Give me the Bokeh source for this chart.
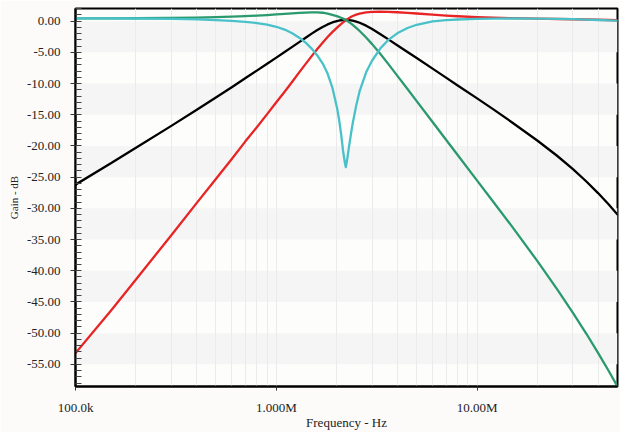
import numpy as np
from bokeh.plotting import figure
from bokeh.models import Range1d, FixedTicker, PrintfTickFormatter, BoxAnnotation, CustomJSTickFormatter
from bokeh.embed import file_html
from bokeh.resources import INLINE

# ---- data ----
freq_hz = [100e3, 150e3, 200e3, 300e3, 400e3, 500e3, 600e3, 700e3, 800e3, 900e3,
           1.0e6, 1.1e6, 1.2e6, 1.3e6, 1.4e6, 1.5e6, 1.6e6, 1.7e6, 1.8e6, 1.9e6,
           2.0e6, 2.05e6, 2.1e6, 2.15e6, 2.2e6, 2.22e6, 2.25e6, 2.3e6, 2.35e6, 2.4e6,
           2.5e6, 2.6e6, 2.8e6, 3.0e6, 3.3e6, 3.6e6, 4.0e6, 4.5e6, 5.0e6, 6.0e6,
           7.0e6, 8.0e6, 10e6, 12e6, 15e6, 20e6, 25e6, 30e6, 35e6, 40e6, 45e6, 50e6]

bandpass_db = [-26.2, -22.77, -20.3, -16.78, -14.24, -12.24, -10.58, -9.16, -7.92, -6.82,
               -5.84, -4.95, -4.12, -3.36, -2.66, -2.0, -1.42, -0.93, -0.52, -0.21,
               0.0, 0.09, 0.15, 0.18, 0.2, 0.2, 0.2, 0.18, 0.14, 0.1,
               -0.06, -0.25, -0.72, -1.27, -2.1, -2.88, -3.85, -4.93, -5.9, -7.6,
               -9.05, -10.3, -12.38, -14.1, -16.27, -19.17, -21.57, -23.7, -25.7, -27.55, -29.3, -31.0]

highpass_db = [-53.2, -46.4, -41.4, -34.3, -29.2, -25.3, -22.1, -19.3, -17.0, -14.9,
               -13.0, -11.3, -9.7, -8.2, -6.85, -5.6, -4.45, -3.45, -2.55, -1.75,
               -1.07, -0.76, -0.47, -0.2, 0.05, 0.145, 0.28, 0.485, 0.67, 0.83,
               1.05, 1.22, 1.4, 1.48, 1.52, 1.5, 1.43, 1.33, 1.23, 1.05,
               0.9, 0.79, 0.65, 0.56, 0.48, 0.4, 0.35, 0.31, 0.27, 0.23, 0.19, 0.15]

lowpass_db = [0.45, 0.45, 0.47, 0.52, 0.58, 0.65, 0.72, 0.8, 0.88, 0.98,
              1.1, 1.18, 1.26, 1.32, 1.37, 1.4, 1.41, 1.35, 1.2, 1.0,
              0.8, 0.68, 0.55, 0.4, 0.25, 0.18, 0.07, -0.13, -0.35, -0.58,
              -1.07, -1.58, -2.62, -3.68, -5.27, -6.8, -8.72, -10.88, -12.82, -16.16,
              -19.0, -21.45, -25.55, -28.9, -33.0, -38.5, -42.95, -46.75, -50.1, -53.15, -55.95, -58.55]

notch_db = [0.45, 0.45, 0.43, 0.38, 0.3, 0.18, 0.05, -0.1, -0.3, -0.55,
            -0.9, -1.35, -1.95, -2.65, -3.45, -4.4, -5.5, -6.75, -8.4, -10.6,
            -13.7, -15.6, -18.0, -20.8, -22.9, -23.4, -22.3, -20.2, -18.2, -16.4,
            -13.5, -11.2, -8.2, -6.3, -4.35, -3.05, -1.95, -1.1, -0.58, -0.02,
            0.17, 0.27, 0.36, 0.4, 0.43, 0.42, 0.38, 0.32, 0.25, 0.19, 0.13, 0.08]

x_tick_values = [1e5, 1e6, 1e7]
x_tick_labels = ["100.0k", "1.000M", "10.00M"]
y_tick_values = [0, -5, -10, -15, -20, -25, -30, -35, -40, -45, -50, -55]

FONT = "Liberation Serif"

p = figure(width=620, height=432, x_axis_type="log",
           x_range=Range1d(1e5, 5e7), y_range=Range1d(-58.55, 2.03),
           output_backend="svg", toolbar_location=None,
           min_border_left=75, min_border_right=3, min_border_top=8, min_border_bottom=41)

p.background_fill_color = "#fdfdfc"
p.border_fill_color = "#fcfbfa"
p.outline_line_color = "black"
p.outline_line_width = 2

# alternating horizontal bands every 5 dB
for t in y_tick_values[::2]:
    p.add_layout(BoxAnnotation(top=t, bottom=t - 5, fill_color="#f5f5f5", fill_alpha=1.0,
                               line_color=None, level="image"))

# vertical grid at 1..9 x decade
grid_ticks = [m * 10.0 ** e for e in (5, 6, 7) for m in range(1, 10) if m * 10.0 ** e <= 5e7]
p.xgrid.ticker = FixedTicker(ticks=grid_ticks)
p.xgrid.grid_line_color = "#ebebeb"
p.xgrid.grid_line_width = 1
p.ygrid.grid_line_color = None

# curves
kw = dict(line_width=2.3, line_join="round", line_cap="round")
p.line(freq_hz, bandpass_db, line_color="#000000", **kw)
p.line(freq_hz, highpass_db, line_color="#e82424", **kw)
p.line(freq_hz, lowpass_db, line_color="#2a9a6e", **kw)
p.line(freq_hz, notch_db, line_color="#48c2c8", **kw)

# x axis
xa = p.xaxis[0]
xa.ticker = FixedTicker(ticks=x_tick_values, minor_ticks=[])
xa.formatter = CustomJSTickFormatter(args=dict(vals=x_tick_values, labs=x_tick_labels), code="""
for (let i = 0; i < vals.length; i++) {
  if (Math.abs(tick - vals[i]) < 1e-6 * vals[i]) { return labs[i]; }
}
return "";
""")
xa.axis_label = "Frequency - Hz"

# y axis
ya = p.yaxis[0]
ya.ticker = FixedTicker(ticks=y_tick_values, minor_ticks=list(range(2, -59, -1)))
ya.formatter = PrintfTickFormatter(format="%.2f")
ya.axis_label = "Gain - dB"

for ax in (xa, ya):
    ax.axis_line_color = "black"
    ax.axis_line_width = 2
    ax.major_tick_line_color = "#333333"
    ax.major_tick_in = 0
    ax.major_label_text_font = FONT
    ax.major_label_text_font_size = "13px"
    ax.major_label_text_color = "#222222"
    ax.axis_label_text_font = FONT
    ax.axis_label_text_font_style = "normal"
    ax.axis_label_text_color = "#222222"

xa.major_tick_out = 4
xa.minor_tick_line_color = None
xa.major_label_standoff = 9
xa.axis_label_standoff = -3
xa.axis_label_text_font_size = "13px"

ya.major_tick_out = 5
ya.minor_tick_in = 6
ya.minor_tick_out = 0
ya.minor_tick_line_color = "#444444"
ya.major_label_standoff = 10
ya.axis_label_standoff = 4
ya.axis_label_text_font_size = "11px"

open("out.html", "w").write(file_html(p, INLINE))
